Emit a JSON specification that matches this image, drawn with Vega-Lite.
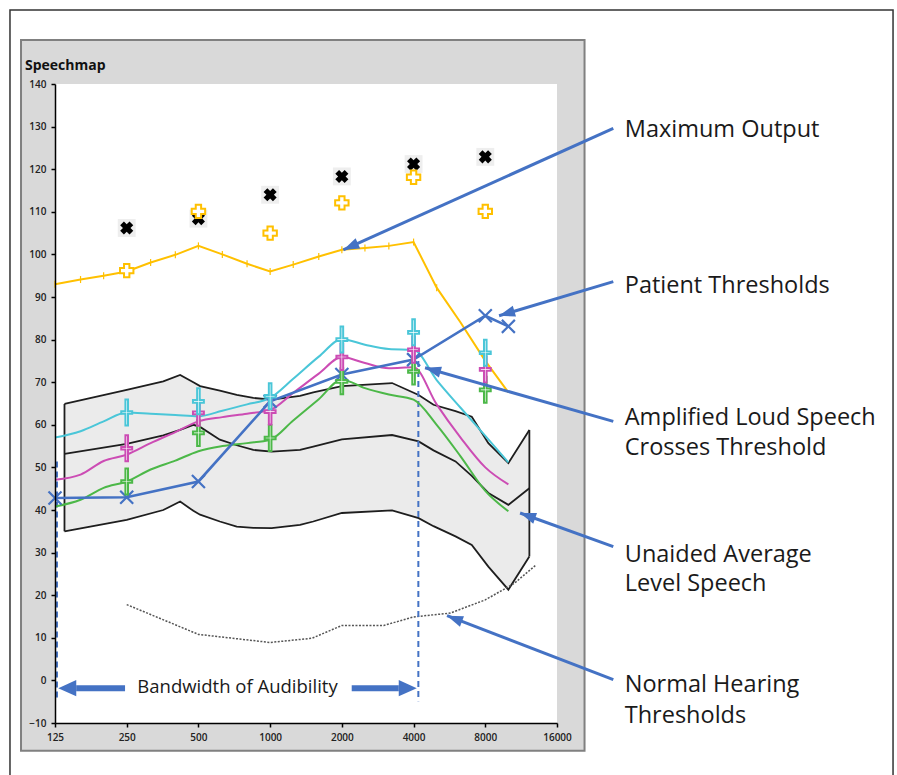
{
  "$schema": "https://vega.github.io/schema/vega-lite/v6.json",
  "width": 502,
  "height": 639,
  "autosize": "none",
  "padding": {"left": 55, "top": 84, "right": 340, "bottom": 52},
  "background": "#ffffff",
  "config": {"view": {"stroke": null, "fill": "#ffffff"}, "font": "Open Sans"},
  "title": {"text": "Speechmap", "anchor": "start", "frame": "group", "dx": -30, "dy": 83, "offset": 8, "fontSize": 14, "fontWeight": "bold", "font": "Open Sans", "color": "#111111", "baseline": "alphabetic"},
  "datasets": {
    "one": [{}],
    "banana": [
      {"f": 137, "hi": 64.9, "mid": 53.2, "lo": 35},
      {"f": 250, "hi": 68.2, "mid": 55.5, "lo": 37.7},
      {"f": 356, "hi": 70.2, "mid": 57.5, "lo": 40},
      {"f": 419, "hi": 71.7, "mid": 58.8, "lo": 42},
      {"f": 476, "hi": 70, "mid": 60, "lo": 39.8},
      {"f": 508, "hi": 69.1, "mid": 59.5, "lo": 38.9},
      {"f": 615, "hi": 68, "mid": 56.5, "lo": 37.3},
      {"f": 724, "hi": 67, "mid": 55.2, "lo": 36.1},
      {"f": 850, "hi": 66.3, "mid": 54.1, "lo": 35.8},
      {"f": 1015, "hi": 65.9, "mid": 53.7, "lo": 35.75},
      {"f": 1335, "hi": 66.8, "mid": 54.1, "lo": 36.5},
      {"f": 1517, "hi": 67.6, "mid": 54.9, "lo": 37.3},
      {"f": 2000, "hi": 69.1, "mid": 56.6, "lo": 39.3},
      {"f": 3250, "hi": 69.8, "mid": 57.6, "lo": 39.9},
      {"f": 4200, "hi": 67, "mid": 56.1, "lo": 38.1},
      {"f": 4850, "hi": 64.7, "mid": 54, "lo": 36.2},
      {"f": 6000, "hi": 63.2, "mid": 51.4, "lo": 33.8},
      {"f": 7020, "hi": 61.9, "mid": 48, "lo": 31.8},
      {"f": 8240, "hi": 55.7, "mid": 44, "lo": 26.7},
      {"f": 10000, "hi": 51, "mid": 41.2, "lo": 21.3},
      {"f": 12250, "hi": 58.8, "mid": 45.1, "lo": 29.1}
    ],
    "speech": [
      {"f": 125, "loud": 57, "average": 47.1, "soft": 40.8},
      {"f": 160, "loud": 58.5, "average": 48.3, "soft": 42.4},
      {"f": 200, "loud": 60.8, "average": 51.5, "soft": 45.2},
      {"f": 250, "loud": 62.9, "average": 53, "soft": 46.7},
      {"f": 315, "loud": 62.6, "average": 55.7, "soft": 49.5},
      {"f": 400, "loud": 62.3, "average": 58.3, "soft": 51.6},
      {"f": 500, "loud": 62, "average": 60.8, "soft": 53.8},
      {"f": 630, "loud": 63.3, "average": 61.8, "soft": 55},
      {"f": 800, "loud": 64.8, "average": 62.6, "soft": 55.7},
      {"f": 1000, "loud": 66.3, "average": 63.5, "soft": 56.5},
      {"f": 1250, "loud": 70.8, "average": 67.5, "soft": 61},
      {"f": 1600, "loud": 76, "average": 72, "soft": 66},
      {"f": 2000, "loud": 80.1, "average": 75.9, "soft": 70.6},
      {"f": 2500, "loud": 78.8, "average": 74.5, "soft": 68.6},
      {"f": 3150, "loud": 77.8, "average": 73.3, "soft": 67.1},
      {"f": 4000, "loud": 77.6, "average": 73.5, "soft": 65.9},
      {"f": 5000, "loud": 70.5, "average": 64.8, "soft": 60},
      {"f": 6300, "loud": 64, "average": 57, "soft": 52.6},
      {"f": 8000, "loud": 57.4, "average": 50, "soft": 44.5},
      {"f": 10000, "loud": 51.2, "average": 46, "soft": 39.7}
    ],
    "crosses": [
      {"f": 250, "loud": 62.9, "average": 54.5, "soft": 46.7},
      {"f": 500, "loud": 65.5, "average": 62.8, "soft": 58.1},
      {"f": 1000, "loud": 66.7, "average": 63.1, "soft": 56.9},
      {"f": 2000, "loud": 80, "average": 75.9, "soft": 70.2},
      {"f": 4000, "loud": 81.7, "average": 77.6, "soft": 72.5},
      {"f": 8000, "loud": 76.9, "average": 73, "soft": 68.2}
    ],
    "patient": [
      {"f": 125, "db": 42.8},
      {"f": 250, "db": 43},
      {"f": 500, "db": 46.7},
      {"f": 1000, "db": 65.5},
      {"f": 2000, "db": 71.8},
      {"f": 4000, "db": 75.3},
      {"f": 8000, "db": 85.6},
      {"f": 10000, "db": 83.1}
    ],
    "limits": [
      {"f": 250, "ucl": 106.2, "mpo": 96.2},
      {"f": 500, "ucl": 108.4, "mpo": 110.1},
      {"f": 1000, "ucl": 114, "mpo": 105},
      {"f": 2000, "ucl": 118.3, "mpo": 112.1},
      {"f": 4000, "ucl": 121.2, "mpo": 118.1},
      {"f": 8000, "ucl": 122.9, "mpo": 110.1}
    ],
    "maxout": [
      {"f": 125, "db": 93},
      {"f": 160, "db": 94.1},
      {"f": 200, "db": 95},
      {"f": 250, "db": 96},
      {"f": 315, "db": 98.1},
      {"f": 400, "db": 99.9},
      {"f": 500, "db": 102},
      {"f": 630, "db": 100},
      {"f": 800, "db": 97.8},
      {"f": 1000, "db": 96},
      {"f": 1250, "db": 97.6},
      {"f": 1600, "db": 99.5},
      {"f": 2000, "db": 101.1},
      {"f": 2500, "db": 101.5},
      {"f": 3150, "db": 102},
      {"f": 4000, "db": 102.9},
      {"f": 5000, "db": 92.2},
      {"f": 6300, "db": 84},
      {"f": 8000, "db": 75},
      {"f": 10000, "db": 67.6}
    ],
    "nht": [
      {"f": 250, "db": 17.8},
      {"f": 500, "db": 10.8},
      {"f": 1000, "db": 8.9},
      {"f": 1500, "db": 9.9},
      {"f": 2000, "db": 12.9},
      {"f": 3000, "db": 12.9},
      {"f": 4000, "db": 14.9},
      {"f": 5700, "db": 15.8},
      {"f": 8000, "db": 18.9},
      {"f": 10600, "db": 22.8},
      {"f": 13000, "db": 27}
    ],
    "arrows": [
      {"name": "Maximum Output", "f1": 27570, "d1": 129.6, "f2": 2028, "d2": 101.05},
      {"name": "Patient Thresholds", "f1": 27570, "d1": 93.6, "f2": 9140, "d2": 85.6},
      {"name": "Amplified Loud Speech", "f1": 27570, "d1": 60.8, "f2": 4469, "d2": 73.4},
      {"name": "Unaided Average", "f1": 27570, "d1": 31.4, "f2": 11198, "d2": 39.3},
      {"name": "Normal Hearing", "f1": 27570, "d1": 0.16, "f2": 5528, "d2": 15.2}
    ],
    "bandwidth": [
      {"f1": 153.4, "f2": 246, "db": -1.83},
      {"f1": 2200, "f2": 3467, "db": -1.83}
    ],
    "bwtext": [
      {"label": "Bandwidth of Audibility", "f": 729.5, "db": -2.96}
    ],
    "labels": [
      {"label": "Maximum Output", "f": 30800, "db": 127.6},
      {"label": "Patient Thresholds", "f": 30800, "db": 91.0},
      {"label": "Amplified Loud Speech", "f": 30800, "db": 60.0},
      {"label": "Crosses Threshold", "f": 30800, "db": 52.95},
      {"label": "Unaided Average", "f": 30800, "db": 27.9},
      {"label": "Level Speech", "f": 30800, "db": 20.9},
      {"label": "Normal Hearing", "f": 30800, "db": -2.7},
      {"label": "Thresholds", "f": 30800, "db": -10.0}
    ]
  },
  "layer": [
    {
      "data": {"name": "one"},
      "mark": {"type": "rect", "filled": false, "stroke": "#333333", "strokeWidth": 1.5},
      "encoding": {
        "x": {"datum": 80.9, "type": "quantitative", "title": null},
        "x2": {"datum": 411800},
        "y": {"datum": 157.4, "type": "quantitative", "title": null},
        "y2": {"datum": -30}
      }
    },
    {
      "data": {"name": "one"},
      "mark": {"type": "rect", "fill": "#d9d9d9", "stroke": "#808080", "strokeWidth": 2},
      "encoding": {
        "x": {"datum": 90.0, "type": "quantitative", "title": null},
        "x2": {"datum": 20880},
        "y": {"datum": 150.3, "type": "quantitative", "title": null},
        "y2": {"datum": -16.5}
      }
    },
    {
      "data": {"name": "one"},
      "mark": {"type": "rect", "fill": "#ffffff"},
      "encoding": {
        "x": {"datum": 125, "type": "quantitative", "title": null},
        "x2": {"datum": 16000},
        "y": {"datum": 140, "type": "quantitative", "title": null},
        "y2": {"datum": -10}
      }
    },
    {
      "data": {"name": "banana"},
      "mark": {"type": "area", "color": "#ebebeb", "opacity": 1},
      "encoding": {
        "x": {"field": "f", "type": "quantitative", "title": null,
          "scale": {"type": "log", "base": 2, "domain": [125, 16000], "nice": false},
          "axis": {"values": [125, 250, 500, 1000, 2000, 4000, 8000, 16000], "format": "d", "title": null, "grid": false, "domainColor": "#000000", "domainWidth": 1.5, "tickColor": "#000000", "tickWidth": 1.5, "tickSize": 4, "labelFont": "Open Sans", "labelFontSize": 10, "labelFontWeight": 600, "labelColor": "#222222", "labelPadding": 5, "labelFlush": false, "labelOverlap": false, "zindex": 1}},
        "y": {"field": "hi", "type": "quantitative", "title": null,
          "scale": {"domain": [-10, 140], "nice": false, "zero": false},
          "axis": {"values": [-10, 0, 10, 20, 30, 40, 50, 60, 70, 80, 90, 100, 110, 120, 130, 140], "format": "d", "title": null, "grid": false, "domainColor": "#000000", "domainWidth": 1.5, "tickColor": "#000000", "tickWidth": 1.5, "tickSize": 4, "labelFont": "Open Sans", "labelFontSize": 10, "labelFontWeight": 600, "labelColor": "#222222", "labelPadding": 5, "labelOverlap": false, "zindex": 1}},
        "y2": {"field": "lo"}
      }
    },
    {
      "data": {"name": "banana"},
      "mark": {"type": "line", "color": "#1e1e1e", "strokeWidth": 1.8},
      "encoding": {
        "x": {"field": "f", "type": "quantitative", "title": null},
        "y": {"field": "hi", "type": "quantitative", "title": null}
      }
    },
    {
      "data": {"name": "banana"},
      "mark": {"type": "line", "color": "#1e1e1e", "strokeWidth": 1.8},
      "encoding": {
        "x": {"field": "f", "type": "quantitative", "title": null},
        "y": {"field": "mid", "type": "quantitative", "title": null}
      }
    },
    {
      "data": {"name": "banana"},
      "mark": {"type": "line", "color": "#1e1e1e", "strokeWidth": 1.8},
      "encoding": {
        "x": {"field": "f", "type": "quantitative", "title": null},
        "y": {"field": "lo", "type": "quantitative", "title": null}
      }
    },
    {
      "data": {"name": "banana"},
      "transform": [{"filter": "datum.f == 137 || datum.f == 12250"}],
      "mark": {"type": "rule", "color": "#1e1e1e", "strokeWidth": 1.8},
      "encoding": {
        "x": {"field": "f", "type": "quantitative", "title": null},
        "y": {"field": "lo", "type": "quantitative", "title": null},
        "y2": {"field": "hi"}
      }
    },
    {
      "data": {"name": "nht"},
      "mark": {"type": "line", "color": "#555555", "strokeWidth": 1.5, "strokeDash": [2, 1.5]},
      "encoding": {
        "x": {"field": "f", "type": "quantitative", "title": null},
        "y": {"field": "db", "type": "quantitative", "title": null}
      }
    },
    {
      "data": {"name": "one"},
      "mark": {"type": "rule", "color": "#4472C4", "strokeWidth": 2, "strokeDash": [6, 4]},
      "encoding": {
        "x": {"datum": 127.4, "type": "quantitative", "title": null},
        "y": {"datum": 51.4, "type": "quantitative", "title": null},
        "y2": {"datum": -4.9}
      }
    },
    {
      "data": {"name": "one"},
      "mark": {"type": "rule", "color": "#4472C4", "strokeWidth": 2, "strokeDash": [6, 4]},
      "encoding": {
        "x": {"datum": 4189, "type": "quantitative", "title": null},
        "y": {"datum": 75, "type": "quantitative", "title": null},
        "y2": {"datum": -4.9}
      }
    },
    {
      "data": {"name": "maxout"},
      "mark": {"type": "line", "color": "#FFC000", "strokeWidth": 2},
      "encoding": {
        "x": {"field": "f", "type": "quantitative", "title": null},
        "y": {"field": "db", "type": "quantitative", "title": null}
      }
    },
    {
      "data": {"name": "maxout"},
      "transform": [{"filter": "datum.f <= 5000"}],
      "mark": {"type": "point", "shape": "M0,-1L0,1", "size": 49, "filled": false, "stroke": "#FFC000", "strokeWidth": 1.2, "opacity": 1},
      "encoding": {
        "x": {"field": "f", "type": "quantitative", "title": null},
        "y": {"field": "db", "type": "quantitative", "title": null}
      }
    },
    {
      "data": {"name": "limits"},
      "mark": {"type": "point", "shape": "square", "size": 320, "filled": true, "fill": "#eeeeee", "strokeWidth": 0, "opacity": 1},
      "encoding": {
        "x": {"field": "f", "type": "quantitative", "title": null},
        "y": {"field": "ucl", "type": "quantitative", "title": null}
      }
    },
    {
      "data": {"name": "limits"},
      "mark": {"type": "point", "shape": "cross", "angle": 45, "size": 175, "filled": true, "fill": "#000000", "strokeWidth": 0, "opacity": 1},
      "encoding": {
        "x": {"field": "f", "type": "quantitative", "title": null},
        "y": {"field": "ucl", "type": "quantitative", "title": null}
      }
    },
    {
      "data": {"name": "limits"},
      "mark": {"type": "point", "shape": "cross", "size": 180, "filled": true, "fill": "#ffffff", "stroke": "#FFC000", "strokeWidth": 2, "opacity": 1},
      "encoding": {
        "x": {"field": "f", "type": "quantitative", "title": null},
        "y": {"field": "mpo", "type": "quantitative", "title": null}
      }
    },
    {
      "data": {"name": "speech"},
      "mark": {"type": "line", "color": "#4CB848", "strokeWidth": 2, "interpolate": "monotone"},
      "encoding": {
        "x": {"field": "f", "type": "quantitative", "title": null},
        "y": {"field": "soft", "type": "quantitative", "title": null}
      }
    },
    {
      "data": {"name": "speech"},
      "mark": {"type": "line", "color": "#CC4CB4", "strokeWidth": 2, "interpolate": "monotone"},
      "encoding": {
        "x": {"field": "f", "type": "quantitative", "title": null},
        "y": {"field": "average", "type": "quantitative", "title": null}
      }
    },
    {
      "data": {"name": "speech"},
      "mark": {"type": "line", "color": "#4AC6D8", "strokeWidth": 2, "interpolate": "monotone"},
      "encoding": {
        "x": {"field": "f", "type": "quantitative", "title": null},
        "y": {"field": "loud", "type": "quantitative", "title": null}
      }
    },
    {
      "data": {"name": "patient"},
      "mark": {"type": "line", "color": "#4472C4", "strokeWidth": 2.6},
      "encoding": {
        "x": {"field": "f", "type": "quantitative", "title": null},
        "y": {"field": "db", "type": "quantitative", "title": null}
      }
    },
    {
      "data": {"name": "patient"},
      "mark": {"type": "point", "shape": "M-1,-1L1,1M-1,1L1,-1", "size": 169, "filled": false, "stroke": "#4472C4", "strokeWidth": 2.2, "opacity": 1},
      "encoding": {
        "x": {"field": "f", "type": "quantitative", "title": null},
        "y": {"field": "db", "type": "quantitative", "title": null}
      }
    },
    {
      "data": {"name": "crosses"},
      "mark": {"type": "point", "shape": "M-0.1,-1L0.1,-1L0.1,-0.1L0.42,-0.1L0.42,0.1L0.1,0.1L0.1,1L-0.1,1L-0.1,0.1L-0.42,0.1L-0.42,-0.1L-0.1,-0.1Z", "size": 676, "filled": true, "fill": "#ffffff", "stroke": "#4CB848", "strokeWidth": 2, "opacity": 1},
      "encoding": {
        "x": {"field": "f", "type": "quantitative", "title": null},
        "y": {"field": "soft", "type": "quantitative", "title": null}
      }
    },
    {
      "data": {"name": "crosses"},
      "mark": {"type": "point", "shape": "M-0.1,-1L0.1,-1L0.1,-0.1L0.42,-0.1L0.42,0.1L0.1,0.1L0.1,1L-0.1,1L-0.1,0.1L-0.42,0.1L-0.42,-0.1L-0.1,-0.1Z", "size": 676, "filled": true, "fill": "#ffffff", "stroke": "#CC4CB4", "strokeWidth": 2, "opacity": 1},
      "encoding": {
        "x": {"field": "f", "type": "quantitative", "title": null},
        "y": {"field": "average", "type": "quantitative", "title": null}
      }
    },
    {
      "data": {"name": "crosses"},
      "mark": {"type": "point", "shape": "M-0.1,-1L0.1,-1L0.1,-0.1L0.42,-0.1L0.42,0.1L0.1,0.1L0.1,1L-0.1,1L-0.1,0.1L-0.42,0.1L-0.42,-0.1L-0.1,-0.1Z", "size": 676, "filled": true, "fill": "#ffffff", "stroke": "#4AC6D8", "strokeWidth": 2, "opacity": 1},
      "encoding": {
        "x": {"field": "f", "type": "quantitative", "title": null},
        "y": {"field": "loud", "type": "quantitative", "title": null}
      }
    },
    {
      "data": {"name": "arrows"},
      "mark": {"type": "rule", "color": "#4472C4", "strokeWidth": 3},
      "encoding": {
        "x": {"field": "f1", "type": "quantitative", "title": null},
        "y": {"field": "d1", "type": "quantitative", "title": null},
        "x2": {"field": "f2"},
        "y2": {"field": "d2"}
      }
    },
    {
      "data": {"name": "one"},
      "mark": {"type": "point", "shape": "M0,0L0.7,2L-0.7,2Z", "size": 256, "angle": 245.7, "filled": true, "fill": "#4472C4", "strokeWidth": 0, "opacity": 1},
      "encoding": {"x": {"datum": 2028, "type": "quantitative", "title": null}, "y": {"datum": 101.05, "type": "quantitative", "title": null}}
    },
    {
      "data": {"name": "one"},
      "mark": {"type": "point", "shape": "M0,0L0.7,2L-0.7,2Z", "size": 256, "angle": 253.3, "filled": true, "fill": "#4472C4", "strokeWidth": 0, "opacity": 1},
      "encoding": {"x": {"datum": 9140, "type": "quantitative", "title": null}, "y": {"datum": 85.6, "type": "quantitative", "title": null}}
    },
    {
      "data": {"name": "one"},
      "mark": {"type": "point", "shape": "M0,0L0.7,2L-0.7,2Z", "size": 256, "angle": 285.8, "filled": true, "fill": "#4472C4", "strokeWidth": 0, "opacity": 1},
      "encoding": {"x": {"datum": 4469, "type": "quantitative", "title": null}, "y": {"datum": 73.4, "type": "quantitative", "title": null}}
    },
    {
      "data": {"name": "one"},
      "mark": {"type": "point", "shape": "M0,0L0.7,2L-0.7,2Z", "size": 256, "angle": 289.7, "filled": true, "fill": "#4472C4", "strokeWidth": 0, "opacity": 1},
      "encoding": {"x": {"datum": 11198, "type": "quantitative", "title": null}, "y": {"datum": 39.3, "type": "quantitative", "title": null}}
    },
    {
      "data": {"name": "one"},
      "mark": {"type": "point", "shape": "M0,0L0.7,2L-0.7,2Z", "size": 256, "angle": 291.1, "filled": true, "fill": "#4472C4", "strokeWidth": 0, "opacity": 1},
      "encoding": {"x": {"datum": 5528, "type": "quantitative", "title": null}, "y": {"datum": 15.2, "type": "quantitative", "title": null}}
    },
    {
      "data": {"name": "bandwidth"},
      "mark": {"type": "rule", "color": "#4472C4", "strokeWidth": 6},
      "encoding": {
        "x": {"field": "f1", "type": "quantitative", "title": null},
        "x2": {"field": "f2"},
        "y": {"field": "db", "type": "quantitative", "title": null}
      }
    },
    {
      "data": {"name": "one"},
      "mark": {"type": "point", "shape": "M0,0L0.9,2L-0.9,2Z", "size": 324, "angle": 270, "filled": true, "fill": "#4472C4", "strokeWidth": 0, "opacity": 1},
      "encoding": {"x": {"datum": 129, "type": "quantitative", "title": null}, "y": {"datum": -1.83, "type": "quantitative", "title": null}}
    },
    {
      "data": {"name": "one"},
      "mark": {"type": "point", "shape": "M0,0L0.9,2L-0.9,2Z", "size": 324, "angle": 90, "filled": true, "fill": "#4472C4", "strokeWidth": 0, "opacity": 1},
      "encoding": {"x": {"datum": 4126, "type": "quantitative", "title": null}, "y": {"datum": -1.83, "type": "quantitative", "title": null}}
    },
    {
      "data": {"name": "bwtext"},
      "mark": {"type": "text", "align": "center", "baseline": "alphabetic", "fontSize": 18.5, "font": "Open Sans", "color": "#1a1a1a"},
      "encoding": {
        "x": {"field": "f", "type": "quantitative", "title": null},
        "y": {"field": "db", "type": "quantitative", "title": null},
        "text": {"field": "label"}
      }
    },
    {
      "data": {"name": "labels"},
      "mark": {"type": "text", "align": "left", "baseline": "alphabetic", "fontSize": 23.5, "font": "Open Sans", "color": "#1a1a1a"},
      "encoding": {
        "x": {"field": "f", "type": "quantitative", "title": null},
        "y": {"field": "db", "type": "quantitative", "title": null},
        "text": {"field": "label"}
      }
    }
  ]
}
